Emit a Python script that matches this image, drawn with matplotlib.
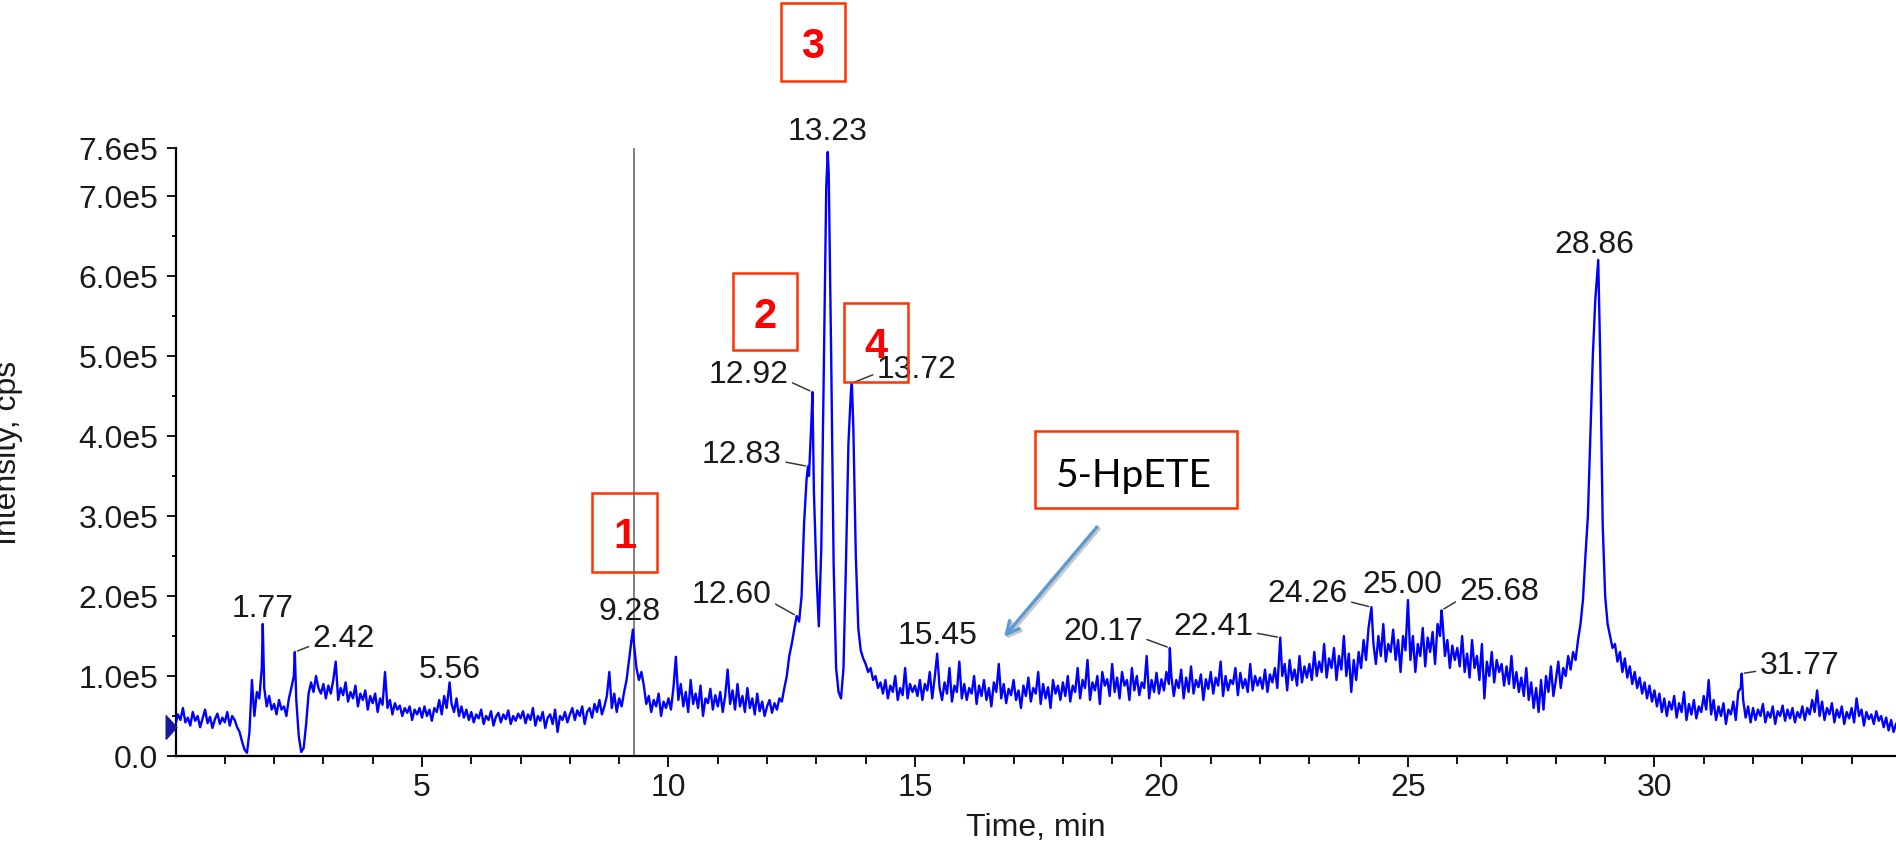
import numpy as np
import matplotlib
matplotlib.use("Agg")
import matplotlib.pyplot as plt
from matplotlib.patches import Rectangle
from matplotlib.ticker import FixedLocator

plt.rcParams["font.family"] = ["Liberation Sans", "DejaVu Sans"]

# ---------------- data (intensity in thousands of cps) ----------------
SAMPLE_STEP_MIN = 0.05
intensity_k = [
    # 0 min
    40, 52, 45, 60, 42, 48, 38, 55, 44, 50, 36, 47, 58, 41, 49, 35, 46, 53, 40, 48,
    # 1
    42, 55, 38, 50, 45, 36, 30, 18, 8, 4, 30, 95, 50, 80, 72, 110, 85, 62, 75, 58,
    # 2
    65, 52, 70, 58, 62, 50, 72, 85, 100, 70, 25, 5, 10, 40, 78, 92, 80, 100, 85, 78,
    # 3
    90, 72, 88, 78, 95, 118, 70, 85, 76, 92, 68, 80, 72, 88, 62, 78, 70, 82, 58, 75,
    # 4
    66, 78, 55, 72, 64, 105, 60, 70, 52, 66, 58, 63, 50, 60, 54, 62, 45, 58, 52, 60,
    # 5
    48, 62, 50, 58, 44, 60, 55, 70, 52, 75, 60, 80, 65, 55, 72, 50, 62, 48, 58, 45,
    # 6
    55, 42, 52, 47, 58, 40, 50, 45, 56, 38, 49, 54, 42, 52, 46, 57, 40, 50, 44, 53,
    # 7
    47, 56, 41, 52, 45, 60, 38, 50, 44, 55, 35, 48, 52, 40, 58, 30, 50, 45, 55, 42,
    # 8
    52, 60, 45, 57, 50, 62, 40, 55, 60, 48, 65, 55, 70, 52, 62, 75, 105, 60, 78, 55,
    # 9
    72, 62, 80, 95, 120, 145, 140, 110, 95, 105, 88, 65, 75, 55, 70, 62, 78, 50, 68, 60,
    # 10
    72, 58, 85, 124, 70, 90, 62, 80, 55, 95, 65, 78, 60, 88, 50, 72, 66, 84, 58, 76,
    # 11
    62, 80, 55, 75, 108, 65, 82, 58, 90, 62, 75, 55, 85, 60, 72, 52, 78, 56, 68, 50,
    # 12
    62, 70, 54, 66, 58, 72, 68, 85, 100, 125, 140, 158, 175, 168, 200, 290, 345, 350, 420, 330,
    # 13
    230, 162, 260, 480, 710, 730, 500, 240, 110, 80, 72, 110, 240, 390, 455, 410, 250, 160, 132, 122,
    # 14
    115, 105, 110, 95, 100, 85, 92, 78, 95, 72, 88, 80, 100, 70, 85, 76, 110, 72, 90, 80,
    # 15
    88, 75, 95, 70, 90, 82, 105, 72, 98, 100, 85, 70, 92, 78, 110, 68, 88, 80, 118, 72,
    # 16
    90, 70, 85, 78, 100, 65, 88, 75, 95, 70, 85, 62, 92, 80, 115, 72, 90, 66, 84, 76,
    # 17
    95, 70, 82, 60, 88, 75, 98, 68, 85, 78, 105, 65, 90, 72, 86, 60, 95, 78, 88, 70,
    # 18
    92, 75, 100, 68, 88, 80, 110, 72, 95, 85, 120, 70, 92, 82, 100, 65, 105, 88, 96, 75,
    # 19
    115, 80, 98, 72, 105, 88, 95, 70, 110, 82, 100, 76, 92, 85, 125, 72, 95, 80, 104, 78,
    # 20
    96, 82, 105, 90, 100, 75, 95, 85, 108, 72, 98, 80, 112, 78, 95, 86, 102, 70, 96, 84,
    # 21
    105, 78, 98, 88, 118, 75, 100, 82, 95, 90, 110, 76, 104, 85, 96, 80, 115, 82, 100, 88,
    # 22
    98, 84, 108, 80, 102, 92, 110, 85, 125, 100, 115, 82, 120, 95, 108, 88, 125, 92, 112, 98,
    # 23
    115, 95, 130, 100, 118, 105, 140, 98, 122, 110, 135, 95, 125, 108, 150, 100, 128, 80, 120, 95,
    # 24
    130, 110, 145, 120, 160, 175, 140, 115, 150, 125, 165, 118, 140, 130, 158, 120, 145, 105, 150, 132,
    # 25
    195, 120, 150, 105, 140, 125, 160, 112, 148, 130, 155, 115, 165, 150, 170, 125, 145, 110, 138, 120,
    # 26
    135, 112, 150, 105, 128, 98, 145, 110, 125, 95, 140, 72, 118, 100, 130, 92, 120, 105, 115, 88,
    # 27
    112, 90, 125, 85, 105, 80, 98, 75, 110, 70, 92, 60, 85, 55, 95, 58, 100, 80, 112, 75,
    # 28
    95, 118, 85, 110, 100, 125, 108, 130, 120, 145, 165, 195, 250, 300, 400, 500, 570, 600, 500, 290,
    # 29
    200, 165, 150, 135, 140, 118, 130, 105, 122, 98, 112, 90, 105, 85, 98, 78, 92, 72, 88, 68,
    # 30
    82, 62, 78, 55, 72, 50, 68, 58, 75, 48, 66, 55, 80, 45, 65, 52, 70, 47, 62, 55,
    # 31
    75, 58, 95, 52, 70, 45, 62, 50, 66, 40, 58, 52, 68, 45, 80, 85, 70, 48, 62, 42,
    # 32
    60, 45, 58, 50, 65, 42, 55, 48, 62, 40, 56, 50, 63, 44, 58, 47, 60, 42, 55, 48,
    # 33
    62, 45, 60, 52, 70, 55, 82, 50, 68, 45, 60, 52, 66, 42, 58, 48, 62, 40, 55, 47,
    # 34
    60, 42, 72, 50, 58, 38, 55, 46, 52, 40, 56, 44, 50, 36, 48, 32, 45, 30, 40,
]

peak_times = [1.77, 2.42, 5.56, 9.28, 12.60, 12.83, 12.92, 13.23, 13.72,
              15.45, 20.17, 22.41, 24.26, 25.00, 25.68, 28.86, 31.77]
peak_heights_k = [165, 130, 92, 158, 175, 362, 455, 755, 466,
                  128, 135, 148, 186, 195, 182, 620, 103]

cursor_time = 9.30
start_level_k = 36

box_digits = ["1", "2", "3", "4"]
compound_name = "5-HpETE"

y_ticks = [0, 1e5, 2e5, 3e5, 4e5, 5e5, 6e5, 7e5, 7.6e5]
y_tick_labels = ["0.0", "1.0e5", "2.0e5", "3.0e5", "4.0e5", "5.0e5",
                 "6.0e5", "7.0e5", "7.6e5"]
x_ticks = [5, 10, 15, 20, 25, 30]

# ---------------- build trace ----------------
t_grid = np.arange(len(intensity_k)) * SAMPLE_STEP_MIN
y_grid = np.array(intensity_k, dtype=float) * 1e3
pt = np.array(peak_times)
ph = np.array(peak_heights_k, dtype=float) * 1e3
keep = np.array([np.min(np.abs(pt - t)) > 0.015 for t in t_grid])
t_all = np.concatenate([t_grid[keep], pt])
y_all = np.concatenate([y_grid[keep], ph])
order = np.argsort(t_all, kind="stable")
t_all, y_all = t_all[order], y_all[order]

# ---------------- layout ----------------
W, H = 1896, 844
fig = plt.figure(figsize=(W / 100, H / 100), dpi=100)
ax_left, ax_bottom = 175.5 / W, (H - 756) / H
ax_top = (H - 148) / H
ax = fig.add_axes([ax_left, ax_bottom, 1.0 - ax_left, ax_top - ax_bottom])

ax.plot(t_all, y_all, color="#0000FF", lw=1.7, zorder=3)
ax.axvline(cursor_time, color="#808080", lw=1.4, zorder=2)

# start marker (right-pointing triangle at the y axis)
tri = [(-0.45, -1.0), (0.45, 0.0), (-0.45, 1.0), (-0.45, -1.0)]
ax.plot([-0.1], [start_level_k * 1e3], marker=tri, ms=17, color="#1818a0",
        clip_on=False, zorder=5, linestyle="none")

ax.set_xlim(0, 34.9)
ax.set_ylim(0, 7.6e5)
for s in ("top", "right"):
    ax.spines[s].set_visible(False)
for s in ("left", "bottom"):
    ax.spines[s].set_linewidth(1.6)

ax.set_yticks(y_ticks)
ax.set_yticklabels(y_tick_labels)
ax.yaxis.set_minor_locator(FixedLocator([k * 1e5 + 5e4 for k in range(7)]))
ax.set_xticks(x_ticks)
ax.set_xticklabels([str(v) for v in x_ticks])
ax.xaxis.set_minor_locator(FixedLocator([v for v in range(1, 35) if v % 5]))

ax.tick_params(axis="y", which="major", length=6.5, width=1.3, pad=6,
               labelsize=23, labelcolor="#1a1a1a")
ax.tick_params(axis="y", which="minor", length=3, width=1.3)
ax.tick_params(axis="x", which="major", length=8, width=1.3, pad=4,
               labelsize=23, labelcolor="#1a1a1a")
ax.tick_params(axis="x", which="minor", length=5.5, width=1.3)

fig.text((175.5 + W) / 2 / W, 1 - 836 / H, "Time, min", ha="center",
         va="baseline", fontsize=23, color="#1a1a1a")
fig.text(23 / W, 1 - 453 / H, "Intensity, cps", rotation=90, ha="right",
         va="center", fontsize=23, color="#1a1a1a")

# peak labels: (dx px, dy px, ha, relpos for leader or None)
label_layout = {
    1.77: (0, 7, "center", None),
    2.42: (18, 5, "left", (0, 0.3)),
    5.56: (0, 4, "center", None),
    9.28: (-3, 10, "center", None),
    12.60: (-25, 13, "right", (1, 0.27)),
    12.83: (-26, 3, "right", (1, 0.3)),
    12.92: (-24, 9, "right", (1, 0.3)),
    13.23: (0, 12, "center", None),
    13.72: (25, 5, "left", (0, 0.4)),
    15.45: (0, 10, "center", None),
    20.17: (-27, 8, "right", (1, 0.3)),
    22.41: (-27, 3, "right", (1, 0.3)),
    24.26: (-24, 5, "right", (1, 0.27)),
    25.00: (-6, 7, "center", None),
    25.68: (18, 10, "left", (0, 0.26)),
    28.86: (-4, 7, "center", None),
    31.77: (18, 0, "left", (0, 0.33)),
}
for t, h in zip(peak_times, peak_heights_k):
    dx, dy, ha, rel = label_layout[t]
    kw = {}
    if rel is not None:
        kw["arrowprops"] = dict(arrowstyle="-", color="#3a3a3a", lw=1.1,
                                shrinkA=1, shrinkB=2, relpos=rel)
    ax.annotate(f"{t:.2f}", xy=(t, h * 1e3), xytext=(dx, dy),
                textcoords="offset pixels", ha=ha, va="baseline",
                fontsize=23, color="#1a1a1a", zorder=6,
                annotation_clip=False, **kw)

# red numbered boxes (figure pixel coordinates: x0, ytop, x1, ybottom)
boxes = [(592, 493, 657, 572), (733, 273, 797, 350),
         (781, 3, 845, 81), (844, 303, 908, 382)]
for (x0, y0, x1, y1), d in zip(boxes, box_digits):
    fig.patches.append(Rectangle((x0 / W, 1 - y1 / H), (x1 - x0) / W,
                                 (y1 - y0) / H, transform=fig.transFigure,
                                 fill=False, edgecolor="#FF3300", lw=1.8,
                                 zorder=10))
    fig.text((x0 + x1) / 2 / W, 1 - ((y0 + y1) / 2 + 16) / H, d,
             ha="center", va="baseline", fontsize=30, fontweight="bold",
             color="#FF0000", zorder=11)

# compound box
bx0, by0, bx1, by1 = 1035, 431, 1237, 508
fig.patches.append(Rectangle((bx0 / W, 1 - by1 / H), (bx1 - bx0) / W,
                             (by1 - by0) / H, transform=fig.transFigure,
                             facecolor="white", edgecolor="#FF3300", lw=1.8,
                             zorder=10))
fig.text(1134 / W, 1 - 487 / H, compound_name, ha="center", va="baseline",
         fontsize=28, family=["Lato", "DejaVu Sans"], color="black",
         zorder=11)

# arrow pointing to the 5-HpETE position
def px_to_data(px, py):
    return ((px - 175.5) / 49.3, (756 - py) * 1250.0)

tip = px_to_data(1004, 637)
tail = px_to_data(1097, 527)
tip_s = px_to_data(1006, 639)
tail_s = px_to_data(1099, 529)
ax.annotate("", xy=tip_s, xytext=tail_s, annotation_clip=False, zorder=6,
            arrowprops=dict(arrowstyle="->,head_length=0.9,head_width=0.45",
                            color="#c8c8c8", lw=2.4, shrinkA=0, shrinkB=0))
ax.annotate("", xy=tip, xytext=tail, annotation_clip=False, zorder=7,
            arrowprops=dict(arrowstyle="->,head_length=0.9,head_width=0.45",
                            color="#5B9BD5", lw=2.4, shrinkA=0, shrinkB=0))

fig.savefig("out.png", dpi=100)
